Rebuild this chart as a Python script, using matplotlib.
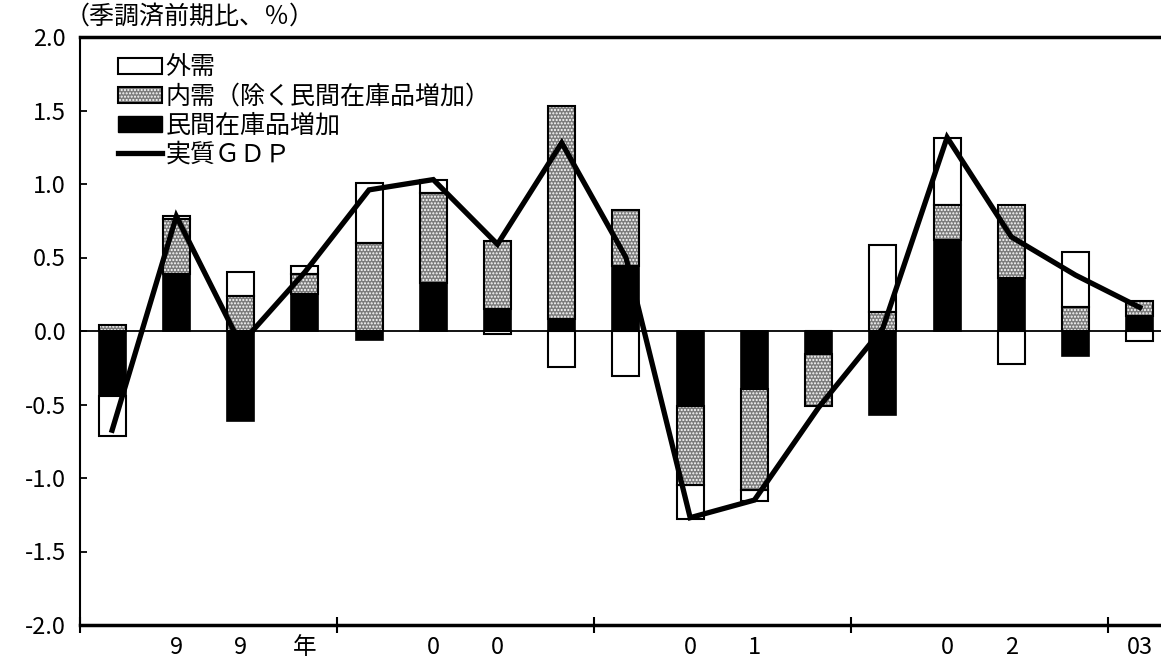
import numpy as np
import matplotlib
matplotlib.use('Agg')
import matplotlib.pyplot as plt
from matplotlib.patches import Patch
from matplotlib.lines import Line2D

# 日本語フォント
plt.rcParams['font.family'] = ['Noto Sans CJK JP', 'DejaVu Sans']
plt.rcParams['axes.unicode_minus'] = False
plt.rcParams['hatch.linewidth'] = 1.0

# データ（1999年1-3月期～2003年1-3月期、前期比寄与度 %）
quarters = np.arange(17)
inventory = [-0.44, 0.385, -0.61, 0.25, -0.06, 0.325, 0.15, 0.08, 0.445,
             -0.51, -0.395, -0.155, -0.57, 0.62, 0.36, -0.17, 0.10]
domestic = [0.04, 0.38, 0.235, 0.14, 0.60, 0.615, 0.46, 1.45, 0.38,
            -0.535, -0.685, -0.355, 0.13, 0.235, 0.50, 0.165, 0.105]
external = [-0.275, 0.02, 0.165, 0.05, 0.41, 0.085, -0.02, -0.245, -0.305,
            -0.235, -0.075, 0.0, 0.455, 0.455, -0.225, 0.37, -0.065]
gdp = [-0.675, 0.78, -0.09, 0.40, 0.96, 1.03, 0.59, 1.28, 0.50,
       -1.27, -1.15, -0.52, 0.02, 1.317, 0.64, 0.38, 0.16]

# 横軸の文字（四半期の位置に一文字ずつ）
label_pos = [1, 2, 3, 5, 6, 9, 10, 13, 14, 16]
label_txt = ['9', '9', '年', '0', '0', '0', '1', '0', '2', '03']
year_edges = [-0.5, 3.5, 7.5, 11.5, 15.5]
yticks = np.arange(-2.0, 2.01, 0.5)

fig = plt.figure(figsize=(11.61, 6.63), dpi=100)
ax = fig.add_axes([80 / 1161, 38 / 663, 1 - 80 / 1161, 588 / 663])

width = 0.42
pos_base = np.zeros(len(quarters))
neg_base = np.zeros(len(quarters))
gray = '#7c7c7c'


def stack(values):
    # 正負別に積み上げの基点を計算
    v = np.array(values)
    bottom = np.where(v >= 0, pos_base, neg_base)
    pos_base[:] += np.where(v >= 0, v, 0)
    neg_base[:] += np.where(v < 0, v, 0)
    return v, bottom


ax.axhline(0, color='black', lw=1.3, zorder=1)

# 民間在庫品増加（黒）
v, b = stack(inventory)
ax.bar(quarters, v, width, bottom=b, color='black', edgecolor='black', lw=1.2, zorder=2)

# 内需（除く民間在庫品増加）（網掛け）
v, b = stack(domestic)
ax.bar(quarters, v, width, bottom=b, facecolor=gray, edgecolor='white',
       hatch='.....', lw=0, zorder=2)
ax.bar(quarters, v, width, bottom=b, fill=False, edgecolor='black', lw=1.5, zorder=3)

# 外需（白）
v, b = stack(external)
ax.bar(quarters, v, width, bottom=b, facecolor='white', edgecolor='black', lw=1.5, zorder=2)

# 実質GDP（折れ線）
ax.plot(quarters, gdp, color='black', lw=3.8, zorder=4, solid_joinstyle='miter')

ax.set_xlim(-0.5, 16.33)
ax.set_ylim(-2.0, 2.0)
ax.set_yticks(yticks)
ax.set_yticklabels(['%.1f' % t for t in yticks], fontsize=17)
ax.tick_params(axis='y', direction='in', length=5, width=1.3, pad=10)

ax.set_xticks(year_edges)
ax.set_xticklabels([])
ax.tick_params(axis='x', which='major', direction='inout', length=12, width=1.5)
ax.set_xticks(label_pos, minor=True)
ax.set_xticklabels(label_txt, minor=True, fontsize=17)
ax.tick_params(axis='x', which='minor', length=0, pad=8)

ax.spines['right'].set_visible(False)
ax.spines['left'].set_linewidth(1.5)
ax.spines['top'].set_linewidth(2.5)
ax.spines['bottom'].set_linewidth(2.5)

ax.text(-0.014, 1.012, '（季調済前期比、％）', transform=ax.transAxes,
        fontsize=18, ha='left', va='bottom')

# 凡例
handles = [
    Patch(facecolor='white', edgecolor='black', lw=1.5),
    (Patch(facecolor=gray, edgecolor='white', hatch='.....', lw=0),
     Patch(fill=False, edgecolor='black', lw=1.5)),
    Patch(facecolor='black', edgecolor='black'),
    Line2D([0], [0], color='black', lw=3.8),
]
labels = ['外需', '内需（除く民間在庫品増加）', '民間在庫品増加', '実質ＧＤＰ']
ax.legend(handles, labels, loc='upper left', bbox_to_anchor=(0.035, 0.97),
          frameon=False, fontsize=18, borderpad=0, borderaxespad=0,
          labelspacing=0.12, handlelength=1.75, handletextpad=0.15,
          handleheight=0.65)

fig.savefig('out.png', dpi=100)
